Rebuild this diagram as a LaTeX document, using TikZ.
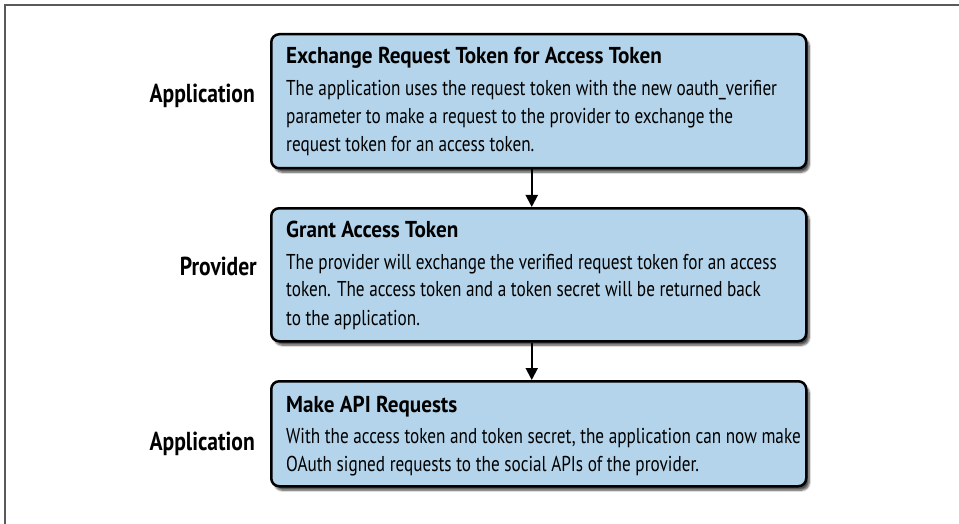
\documentclass[tikz,border=0pt]{standalone}
\usepackage{fontspec}
\setmainfont{PT Sans}[FakeStretch=0.8]
\newfontfamily\headfont{PT Sans}[FakeStretch=0.92]
\newfontfamily\rolefont{PT Sans}[FakeStretch=0.83]
\usetikzlibrary{arrows.meta,shadows.blur}
\definecolor{boxblue}{RGB}{179,212,234}
\definecolor{framegray}{RGB}{90,90,90}
\newcommand\textlines[1]{\vtop{\baselineskip=28pt\lineskiplimit=-20pt\halign{##\hfil\cr#1\crcr}}}
\tikzset{
  stepbox/.style={draw=black, line width=2.5pt, rounded corners=8pt, fill=boxblue,
    minimum width=535pt, anchor=north west, inner sep=0pt,
    blur shadow={shadow xshift=3pt, shadow yshift=-4pt, shadow blur steps=6, shadow opacity=70}},
  titletext/.style={anchor=base west, inner sep=0pt, font=\headfont\bfseries\fontsize{23}{26}\selectfont},
  bodytext/.style={anchor=base west, inner sep=0pt, font=\fontsize{21.5}{28}\selectfont},
  roletext/.style={anchor=base east, inner sep=0pt, font=\rolefont\bfseries\fontsize{26}{30}\selectfont},
  flow/.style={line width=2pt, -{Triangle[width=12pt,length=12pt]}}
}
\begin{document}
\begin{tikzpicture}[x=1pt,y=-1pt]
\useasboundingbox (0,0) rectangle (959,524);
\draw[framegray, line width=1.5pt] (5,524) -- (5,5) -- (959,5);

\node[stepbox, minimum height=134pt] (b1) at (270,33) {};
\node[stepbox, minimum height=133pt] (b2) at (270,207) {};
\node[stepbox, minimum height=105pt] (b3) at (270,380) {};

\node[titletext] (t1) at (286,64) {Exchange Request Token for Access Token};
\node[bodytext] (d1) at (286,96) {\textlines{The application uses the request token with the new oauth\_verifier\cr parameter to make a request to the provider to exchange the\cr request token for an access token.}};

\node[titletext] (t2) at (286,237) {Grant Access Token};
\node[bodytext] (d2) at (286,269) {\textlines{The provider will exchange the verified request token for an access\cr token. The access token and a token secret will be returned back\cr to the application.}};

\node[titletext] (t3) at (286,412) {Make API Requests};
\node[bodytext] (d3) at (286,443) {\textlines{With the access token and token secret, the application can now make\cr OAuth signed requests to the social APIs of the provider.}};

\node[roletext] (r1) at (255,103) {Application};
\node[roletext] (r2) at (257,275) {Provider};
\node[roletext] (r3) at (255,450) {Application};

\draw[flow] ([xshift=-7pt]b1.south) -- ([xshift=-7pt]b2.north);
\draw[flow] ([xshift=-7pt]b2.south) -- ([xshift=-7pt]b3.north);
\end{tikzpicture}
\end{document}
